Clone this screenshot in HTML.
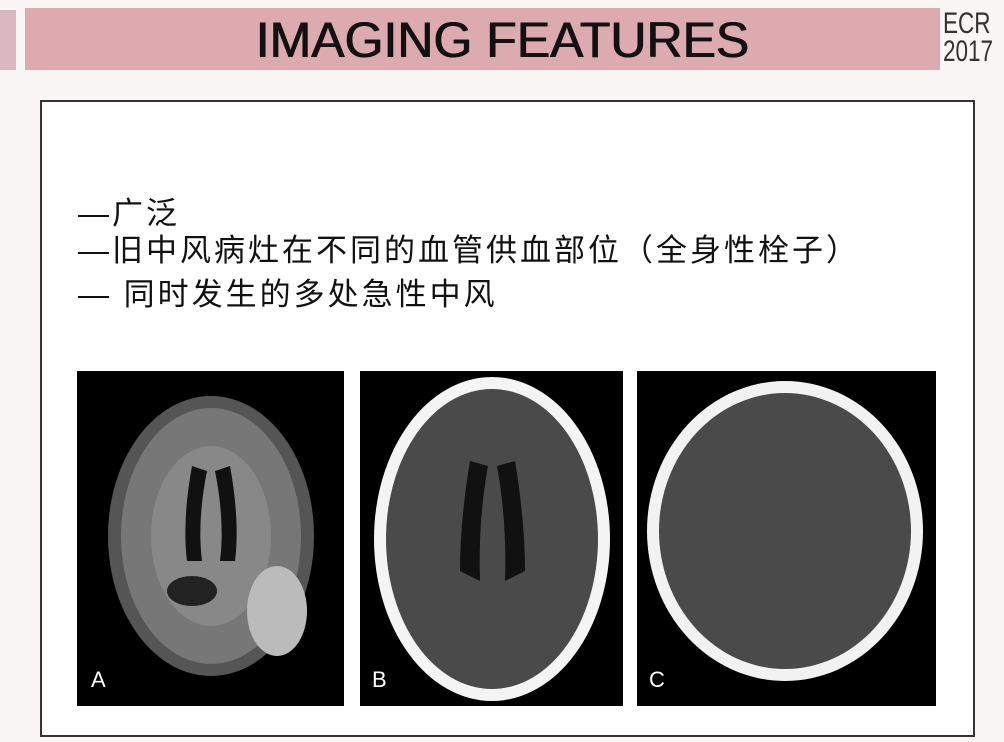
<!DOCTYPE html>
<html><head><meta charset="utf-8">
<style>
body{margin:0;width:1004px;height:742px;overflow:hidden;background:#faf6f6;position:relative;font-family:"Liberation Sans","Noto Sans CJK SC",sans-serif}
.abs{position:absolute}
#hdr{left:25px;top:8px;width:915px;height:62px;background:#ddaab0}
#title{left:0;top:9px;width:1004px;text-align:center;font-size:50px;line-height:62px;color:#111;text-shadow:1px 0 0 #111}
#ecr{left:943px;top:10px;width:60px;font-size:30px;line-height:28px;color:#333;transform:scaleX(0.75);transform-origin:0 0}
#box{left:40px;top:100px;width:931px;height:633px;background:#fff;border:2px solid #333}
.ln{left:78px;font-size:31px;letter-spacing:3px;color:#111;white-space:nowrap}
.img{top:371px;height:335px;background:#000;overflow:hidden}
</style></head><body>
<div class="abs" style="left:0;top:10px;width:16px;height:60px;background:#b06070;opacity:.4"></div>
<div id="hdr" class="abs"></div>
<div id="title" class="abs">IMAGING FEATURES</div>
<div id="ecr" class="abs">ECR<br>2017</div>
<div id="box" class="abs"></div>
<div class="abs ln" style="top:188px">—广泛</div>
<div class="abs ln" style="top:225px">—旧中风病灶在不同的血管供血部位（全身性栓子）</div>
<div class="abs ln" style="top:269px">— 同时发生的多处急性中风</div>

<div class="abs img" style="left:77px;width:267px">
<svg width="267" height="335">
<ellipse cx="134" cy="165" rx="103" ry="140" fill="#555"/>
<ellipse cx="134" cy="165" rx="90" ry="128" fill="#777"/>
<ellipse cx="134" cy="165" rx="60" ry="90" fill="#888"/>
<path d="M115 95 Q105 150 110 190 L125 190 Q120 150 130 100Z M153 95 Q163 150 158 190 L143 190 Q148 150 138 100Z" fill="#111"/>
<ellipse cx="200" cy="240" rx="30" ry="45" fill="#bbb"/>
<ellipse cx="115" cy="220" rx="25" ry="15" fill="#222"/>
<text x="14" y="316" fill="#fff" font-size="22" font-family="Liberation Sans">A</text>
</svg></div>
<div class="abs img" style="left:360px;width:263px">
<svg width="263" height="335">
<ellipse cx="132" cy="168" rx="118" ry="162" fill="#f4f4f4"/>
<ellipse cx="132" cy="168" rx="106" ry="150" fill="#4a4a4a"/>
<path d="M110 90 Q100 150 100 200 L120 210 Q118 150 128 95Z M155 90 Q165 150 165 200 L145 210 Q147 150 137 95Z" fill="#111"/>
<text x="12" y="316" fill="#fff" font-size="22" font-family="Liberation Sans">B</text>
</svg></div>
<div class="abs img" style="left:637px;width:299px">
<svg width="299" height="335">
<ellipse cx="148" cy="160" rx="138" ry="150" fill="#f2f2f2"/>
<ellipse cx="148" cy="160" rx="126" ry="138" fill="#4a4a4a"/>
<text x="12" y="316" fill="#fff" font-size="22" font-family="Liberation Sans">C</text>
</svg></div>
</body></html>
